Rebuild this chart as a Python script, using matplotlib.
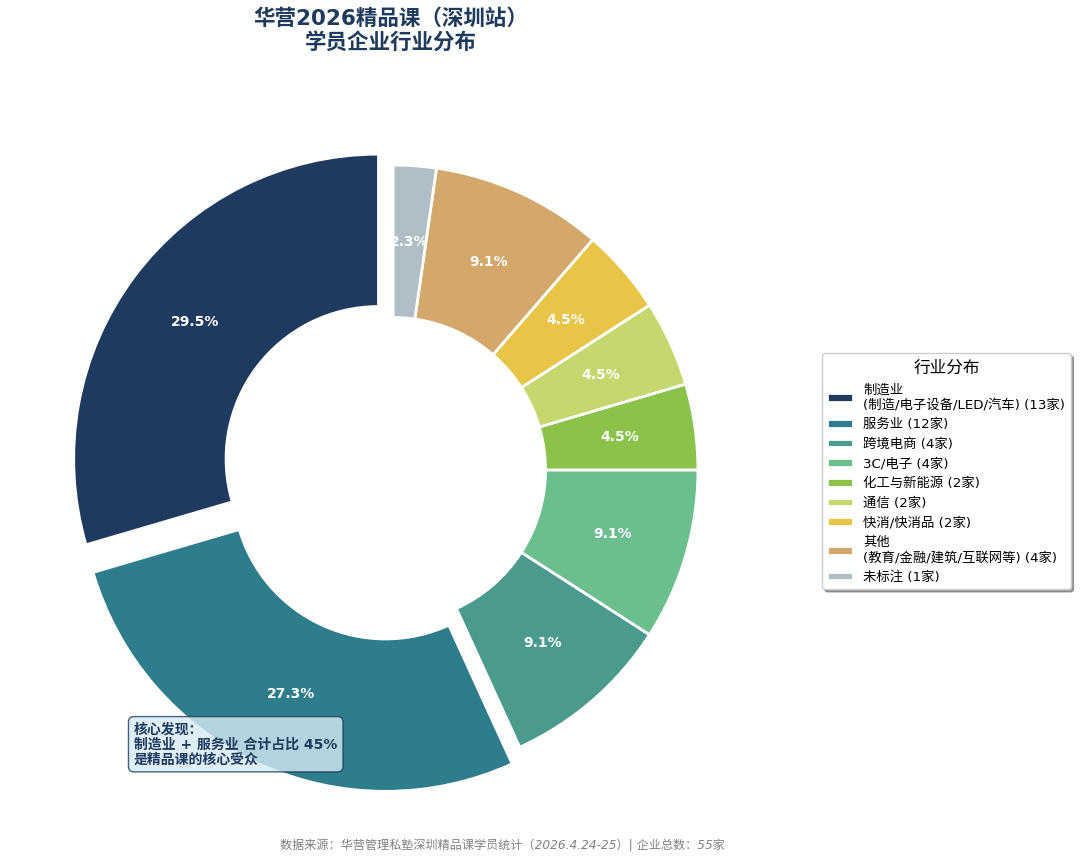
import matplotlib
matplotlib.use("Agg")
import matplotlib.pyplot as plt

plt.rcParams['font.family'] = ['DejaVu Sans', 'Noto Sans CJK SC']
plt.rcParams['axes.unicode_minus'] = False

# data
industries = [
    '制造业\n(制造/电子设备/LED/汽车)',
    '服务业',
    '跨境电商',
    '3C/电子',
    '化工与新能源',
    '通信',
    '快消/快消品',
    '其他\n(教育/金融/建筑/互联网等)',
    '未标注',
]
counts = [13, 12, 4, 4, 2, 2, 2, 4, 1]
colors = ['#1f3a5f', '#2e7d8c', '#4a9b8e', '#6bbf8e', '#8bc34a',
          '#c5d86d', '#e8c547', '#d4a76a', '#b0bec5']
explode = [0.06, 0.06, 0, 0, 0, 0, 0, 0, 0]

fig = plt.figure(figsize=(10.8, 8.63), dpi=100)
ax = fig.add_axes([0.011, 0.014, 0.706, 0.883])

wedges, texts, autotexts = ax.pie(
    counts, colors=colors, explode=explode, startangle=90,
    counterclock=True, autopct='%1.1f%%', pctdistance=0.75,
    wedgeprops=dict(width=0.5, edgecolor='white', linewidth=2),
    textprops=dict(color='white', fontsize=10, fontweight='bold'))
ax.set_xlim(-1.25, 1.25)
ax.set_ylim(-1.25, 1.25)
ax.set_aspect('equal')

legend_labels = ['{} ({}家)'.format(n, c) for n, c in zip(industries, counts)]
leg = fig.legend(wedges, legend_labels, title='行业分布', loc='center left',
                 bbox_to_anchor=(0.755, 0.454), fontsize=9.6, title_fontsize=12,
                 frameon=True, fancybox=True, shadow=True,
                 handlelength=1.9, handleheight=0.6, labelspacing=0.5)

fig.text(0.362, 0.965, '华营2026精品课（深圳站）\n学员企业行业分布', ha='center', va='center',
         fontsize=15.5, fontweight='bold', color='#1f3a5f', linespacing=1.2)

ax.text(-0.85, -0.90, '核心发现：\n制造业 + 服务业 合计占比 45%\n是精品课的核心受众',
        fontsize=10, fontweight='bold', color='#1f3a5f', va='center', ha='left',
        linespacing=1.1,
        bbox=dict(boxstyle='round,pad=0.4', facecolor='#d6eaf5', alpha=0.8,
                  edgecolor='#1f3a5f', linewidth=1))

fig.text(0.465, 0.02, '数据来源：华营管理私塾深圳精品课学员统计（2026.4.24-25）| 企业总数：55家',
         ha='center', va='center', fontsize=8.7, color='gray', style='italic')

fig.savefig('out.png', dpi=100)
